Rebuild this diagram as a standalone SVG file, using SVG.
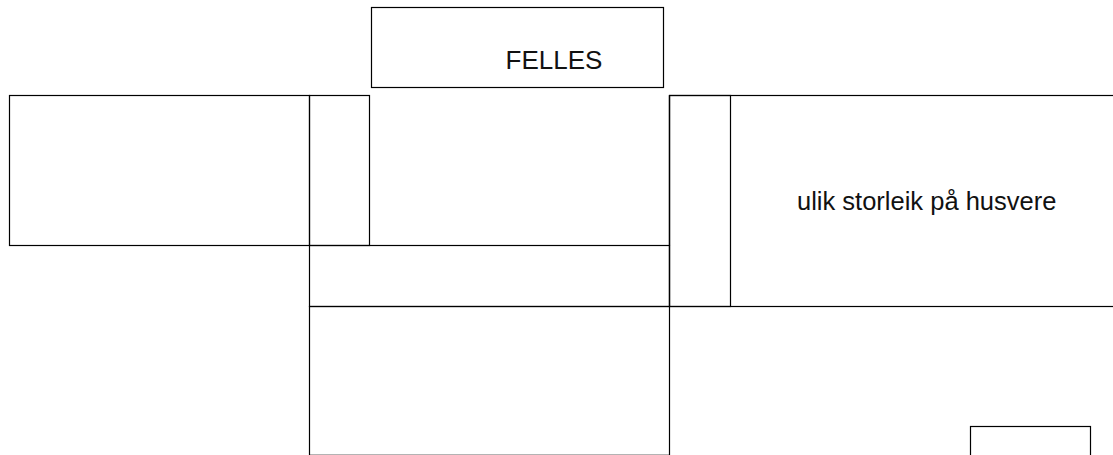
<svg xmlns="http://www.w3.org/2000/svg" width="1113" height="455" viewBox="0 0 1113 455">
<style>
.w{fill:none;stroke:#000;stroke-width:1.2}
.t{font-family:"Liberation Sans",Arial,sans-serif;fill:#111}
</style>
<rect width="1113" height="455" fill="#fff"/>
<g id="felles"><rect class="w" x="371.5" y="7.5" width="292" height="80"/><text class="t" x="505.5" y="68.5" font-size="26">FELLES</text></g>
<g id="room-left"><rect class="w" x="9.5" y="95.5" width="300" height="150"/></g>
<g id="room-left-narrow"><rect class="w" x="309.5" y="95.5" width="60" height="150"/></g>
<g id="room-upper-middle"><path class="w" d="M369.5 245.5H669.5M669.5 95.5V245.5"/></g>
<g id="room-right"><rect class="w" x="669.5" y="95.5" width="460" height="211"/><text class="t" x="797" y="209.5" font-size="25.5">ulik storleik på husvere</text></g>
<g id="room-right-narrow"><rect class="w" x="669.5" y="95.5" width="61" height="211"/></g>
<g id="strip-middle"><rect class="w" x="309.5" y="245.5" width="360" height="61"/></g>
<g id="room-lower"><rect class="w" x="309.5" y="306.5" width="360" height="148.8"/></g>
<g id="box-small"><rect class="w" x="970.5" y="426.5" width="120" height="40"/></g>
<g id="connectors"></g>
</svg>
